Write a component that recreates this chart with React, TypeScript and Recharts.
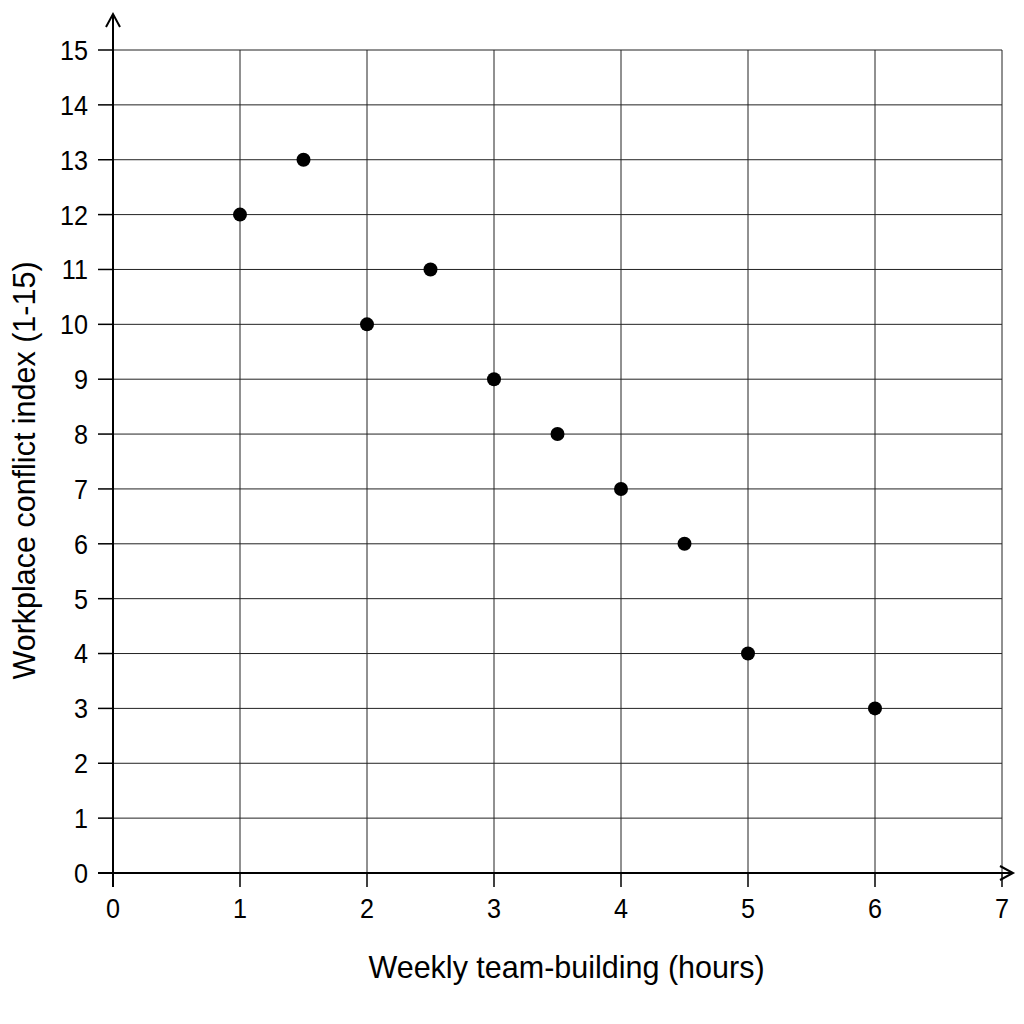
import React from "react";
import {
  ScatterChart,
  Scatter,
  XAxis,
  YAxis,
  CartesianGrid,
  ReferenceLine,
  Label,
} from "recharts";

const hours = [1, 1.5, 2, 2.5, 3, 3.5, 4, 4.5, 5, 6];
const conflict = [12, 13, 10, 11, 9, 8, 7, 6, 4, 3];
const xTicks = [0, 1, 2, 3, 4, 5, 6, 7];
const yTicks = [0, 1, 2, 3, 4, 5, 6, 7, 8, 9, 10, 11, 12, 13, 14, 15];

const xTitle = "Weekly team-building (hours)";
const yTitle = "Workplace conflict index (1-15)";

const data = hours.map((h, i) => ({ x: h, y: conflict[i] }));

const FONT = '"Liberation Sans", Arial, sans-serif';

const Dot = (props: any) => <circle cx={props.cx} cy={props.cy} r={7} fill="#000" />;

// tick text, slightly narrowed like the reference font
const XTick = (props: any) => {
  const { x, y, payload } = props;
  return (
    <text
      transform={`translate(${x},${y}) scale(0.9,1)`}
      textAnchor="middle"
      dy="0.71em"
      fill="#000"
      fontSize={28}
      fontFamily={FONT}
    >
      {payload.value}
    </text>
  );
};

const YTick = (props: any) => {
  const { x, y, payload } = props;
  return (
    <text
      transform={`translate(${x},${y}) scale(0.9,1)`}
      textAnchor="end"
      dy="0.355em"
      fill="#000"
      fontSize={28}
      fontFamily={FONT}
    >
      {payload.value}
    </text>
  );
};

const YTitle = (props: any) => {
  const vb = props.viewBox || {};
  const cx = vb.x - 16;
  const cy = vb.y + vb.height / 2 + 9;
  return (
    <text
      transform={`translate(${cx},${cy}) rotate(-90)`}
      textAnchor="middle"
      dy="0.355em"
      fill="#000"
      fontSize={30.5}
      fontFamily={FONT}
    >
      {yTitle}
    </text>
  );
};

// axis line with an arrow head past the end of the segment
const ArrowAxis = (dir: "up" | "right") => (props: any) => {
  const { x1, y1, x2, y2 } = props;
  if (dir === "up") {
    const tipY = Math.min(y1, y2) - 36;
    const x = x1;
    return (
      <g>
        <line x1={x} y1={Math.max(y1, y2) + 14} x2={x} y2={tipY} stroke="#000" strokeWidth={2} />
        <polyline points={`${x - 7},${tipY + 13} ${x},${tipY} ${x + 7},${tipY + 13}`} fill="none" stroke="#000" strokeWidth={2} />
      </g>
    );
  }
  const tipX = Math.max(x1, x2) + 11;
  const y = y1;
  return (
    <g>
      <line x1={Math.min(x1, x2) - 15} y1={y} x2={tipX} y2={y} stroke="#000" strokeWidth={2} />
      <polyline points={`${tipX - 13},${y - 7} ${tipX},${y} ${tipX - 13},${y + 7}`} fill="none" stroke="#000" strokeWidth={2} />
    </g>
  );
};

export default function App() {
  return (
    <div style={{ position: "fixed", left: 0, top: 0, width: 1024, height: 1024, background: "#fff" }}>
      <ScatterChart
        width={1024}
        height={1024}
        margin={{ top: 50, right: 22, bottom: 91, left: 40 }}
      >
        <CartesianGrid stroke="#222" strokeWidth={1} />
        <XAxis
          type="number"
          dataKey="x"
          domain={[0, 7]}
          ticks={xTicks}
          interval={0}
          height={60}
          axisLine={false}
          tickLine={{ stroke: "#000", strokeWidth: 1.5 }}
          tickSize={14}
          tickMargin={11}
          tick={XTick}
        >
          <Label
            value={xTitle}
            position="insideBottom"
            offset={-45}
            dx={9}
            style={{ fill: "#000", fontSize: 30.5, fontFamily: FONT }}
          />
        </XAxis>
        <YAxis
          type="number"
          dataKey="y"
          domain={[0, 15]}
          ticks={yTicks}
          interval={0}
          width={73}
          axisLine={false}
          tickLine={{ stroke: "#000", strokeWidth: 1.5 }}
          tickSize={15}
          tickMargin={10}
          tick={YTick}
        >
          <Label content={YTitle} />
        </YAxis>
        <ReferenceLine
          segment={[{ x: 0, y: 0 }, { x: 0, y: 15 }]}
          ifOverflow="visible"
          shape={ArrowAxis("up")}
        />
        <ReferenceLine
          segment={[{ x: 0, y: 0 }, { x: 7, y: 0 }]}
          ifOverflow="visible"
          shape={ArrowAxis("right")}
        />
        <Scatter data={data} fill="#000" shape={Dot} isAnimationActive={false} />
      </ScatterChart>
    </div>
  );
}
